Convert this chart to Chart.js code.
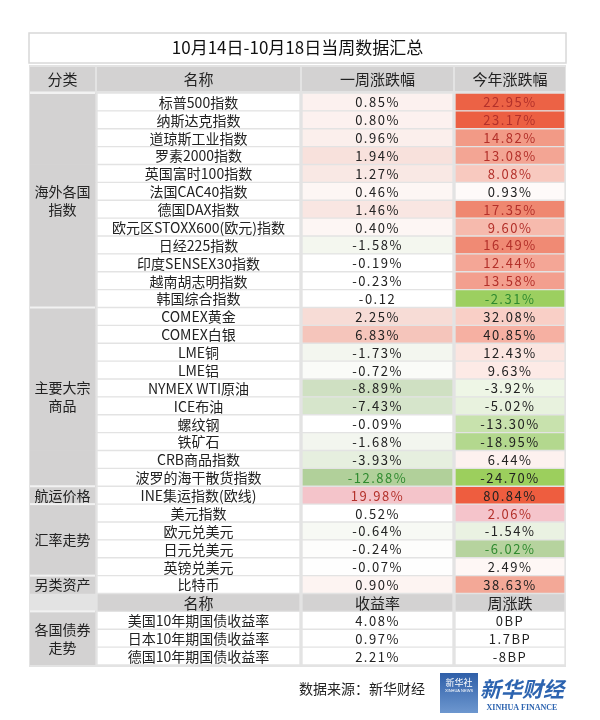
<!DOCTYPE html>
<html><head><meta charset="utf-8">
<script src="https://cdn.jsdelivr.net/npm/chart.js@4/dist/chart.umd.min.js"></script>
<style>body{margin:0;background:#fff}canvas{display:block}</style>
</head><body><canvas id="c" width="600" height="720"></canvas>
<script>
const title = '10月14日-10月18日当周数据汇总';
const headers = ['分类','名称','一周涨跌幅','今年涨跌幅'];
const bondHeaders = ['名称','收益率','周涨跌'];
const names = ['标普500指数','纳斯达克指数','道琼斯工业指数','罗素2000指数','英国富时100指数','法国CAC40指数','德国DAX指数','欧元区STOXX600(欧元)指数','日经225指数','印度SENSEX30指数','越南胡志明指数','韩国综合指数',
 'COMEX黄金','COMEX白银','LME铜','LME铝','NYMEX WTI原油','ICE布油','螺纹钢','铁矿石','CRB商品指数','波罗的海干散货指数',
 'INE集运指数(欧线)','美元指数','欧元兑美元','日元兑美元','英镑兑美元','比特币'];
const weekly = ['0.85%','0.80%','0.96%','1.94%','1.27%','0.46%','1.46%','0.40%','-1.58%','-0.19%','-0.23%','-0.12',
 '2.25%','6.83%','-1.73%','-0.72%','-8.89%','-7.43%','-0.09%','-1.68%','-3.93%','-12.88%',
 '19.98%','0.52%','-0.64%','-0.24%','-0.07%','0.90%'];
const yearly = ['22.95%','23.17%','14.82%','13.08%','8.08%','0.93%','17.35%','9.60%','16.49%','12.44%','13.58%','-2.31%',
 '32.08%','40.85%','12.43%','9.63%','-3.92%','-5.02%','-13.30%','-18.95%','6.44%','-24.70%',
 '80.84%','2.06%','-1.54%','-6.02%','2.49%','38.63%'];
const bondNames = ['美国10年期国债收益率','日本10年期国债收益率','德国10年期国债收益率'];
const bondYield = ['4.08%','0.97%','2.21%'];
const bondChg = ['0BP','1.7BP','-8BP'];
const groups = [['海外各国','指数',0,11],['主要大宗','商品',12,21],['航运价格','',22,22],['汇率走势','',23,26],['另类资产','',27,27],['各国债券','走势',29,31]];
const source = '数据来源：新华财经';

// styles
const weekBg = ['#fcf1ef','#fcf1ef','#fbefec','#f8e1dc','#f9e8e4','#fdf6f4','#f9e6e2','#fdf6f4','#f4f7ef','#ffffff','#ffffff','#ffffff',
 '#f7dcd6','#f5c5bb','#f3f6ef','#fafbf8','#cfe0c2','#d6e5cb','#ffffff','#f3f6ef','#e6efdf','#b1d09a',
 '#f4c4ca','#ffffff','#f7f9f4','#fdfdfc','#fefefe','#fdf4f2'];
const yearBg = ['#ec6245','#ec5f42','#f29a86','#f3a594','#f8c9bf','#fefaf9','#ef8770','#f6baad','#f08a74','#f4a696','#f39f8e','#9ccf60',
 '#f9cfc6','#f6b0a2','#fbe5e0','#fdeae6','#eef6e6','#e8f2de','#c8e2ad','#b3d88e','#fdf1ef','#9ccf5d',
 '#ee5d3f','#f5c4cb','#eaf2e2','#b6d39e','#fef7f5','#f3a897'];
const R='#b3302a', G='#2f8a2f', K='#222';
const weekTx = weekly.map((v,i)=> i===21?G:(i===22?R:K));
const yearTx = [R,R,R,R,R,K,R,R,R,R,R,G, K,K,K,K,K,K,K,K,K,K, K,R,K,G,K,K];
const colEdges = [0,65,67,270,272,423,425,535];
const GREY='#d3d2d2', GAP='#e3e3e3';

const rows = names.concat(['__bh'], bondNames);
const N = rows.length;
const catData = rows.map((r,i)=> i===28?null:[colEdges[0],colEdges[1]]);
const nameData = rows.map(()=>[colEdges[2],colEdges[3]]);
const weekData = rows.map(()=>[colEdges[4],colEdges[5]]);
const yearData = rows.map(()=>[colEdges[6],colEdges[7]]);
const col2Text = names.concat(['名称'], bondNames);
const col3Text = weekly.concat(['收益率'], bondYield);
const col4Text = yearly.concat(['周涨跌'], bondChg);
const col3Bg = weekBg.concat([GREY,'#fff','#fff','#fff']);
const col4Bg = yearBg.concat([GREY,'#fff','#fff','#fff']);
const col3Tx = weekTx.concat([K,K,K,K]);
const col4Tx = yearTx.concat([K,K,K,K]);
const FONT = '"Noto Sans CJK SC", sans-serif';

const common = {grouped:false, barPercentage:1, categoryPercentage:1, borderSkipped:false};
const tablePlugin = {
  id:'table',
  beforeDatasetsDraw(chart){
    const {ctx, chartArea:a, scales:{x,y}} = chart;
    ctx.save();
    ctx.fillStyle=GAP; ctx.fillRect(a.left-1,a.top-28,a.right-a.left+2,a.bottom-a.top+30);
    ctx.fillStyle='#fff'; ctx.strokeStyle='#d8d8d8'; ctx.lineWidth=1.5;
    ctx.fillRect(a.left-1,33,a.right-a.left+2,30); ctx.strokeRect(a.left-1,33,a.right-a.left+2,30);
    ctx.fillStyle='#111'; ctx.font='17px '+FONT; ctx.textAlign='center'; ctx.textBaseline='middle';
    ctx.fillText(title,(a.left+a.right)/2,48);
    ctx.font='15px '+FONT;
    for(let c=0;c<4;c++){
      const l=x.getPixelForValue(c===0?colEdges[0]:colEdges[2*c]), r=x.getPixelForValue(colEdges[2*c+1]);
      ctx.fillStyle=GREY; ctx.fillRect(l,a.top-26,r-l,24);
      ctx.fillStyle='#222'; ctx.fillText(headers[c],(l+r)/2,a.top-14);
    }
    ctx.restore();
  },
  afterDatasetsDraw(chart){
    const {ctx, chartArea:a, scales:{x,y}} = chart;
    ctx.save(); ctx.textAlign='center'; ctx.textBaseline='middle';
    const half = (y.getPixelForValue(1)-y.getPixelForValue(0))/2;
    ctx.font='14px '+FONT;
    const cl=x.getPixelForValue(colEdges[0]), cr=x.getPixelForValue(colEdges[1]);
    groups.forEach(g=>{
      const t=y.getPixelForValue(g[2])-half, b=y.getPixelForValue(g[3])+half;
      ctx.fillStyle='#f2f2f2'; ctx.fillRect(cl,t-1,cr-cl,2);
      const m=(t+b)/2;
      ctx.fillStyle='#222';
      if(g[1]){ctx.fillText(g[0],(cl+cr)/2,m-9);ctx.fillText(g[1],(cl+cr)/2,m+9);}
      else ctx.fillText(g[0],(cl+cr)/2,m);
    });
    const cx=[2,4,6].map(k=>(x.getPixelForValue(colEdges[k])+x.getPixelForValue(colEdges[k+1]))/2);
    for(let i=0;i<N;i++){
      const yy=y.getPixelForValue(i)+0.5;
      ctx.letterSpacing='0px';
      ctx.font=(i===28?'15px ':'14px ')+FONT;
      ctx.fillStyle=K; ctx.fillText(col2Text[i],cx[0],yy);
      if(i!==28){ctx.font='13px '+FONT; ctx.letterSpacing='1.5px';}
      ctx.fillStyle=col3Tx[i]; ctx.fillText(col3Text[i],cx[1],yy);
      ctx.fillStyle=col4Tx[i]; ctx.fillText(col4Text[i],cx[2],yy);
    }
    ctx.letterSpacing='0px';
    ctx.font='14px '+FONT; ctx.fillStyle='#222'; ctx.textAlign='right';
    ctx.fillText(source,425,689);
    const gr=ctx.createLinearGradient(0,673,0,713); gr.addColorStop(0,'#2f5fa8'); gr.addColorStop(1,'#6d97cf');
    ctx.fillStyle=gr; ctx.fillRect(440,673,38,40);
    ctx.fillStyle='#fff'; ctx.font='9px '+FONT; ctx.textAlign='center'; ctx.fillText('新华社',459,683);
    ctx.font='4px sans-serif'; ctx.fillText('XINHUA NEWS',459,691);
    ctx.fillStyle='#2d64b0'; ctx.font='italic bold 21px '+FONT; ctx.fillText('新华财经',522,689);
    ctx.font='bold 8px "Liberation Serif", serif'; ctx.fillText('XINHUA FINANCE',522,708);
    ctx.restore();
  }
};

new Chart(document.getElementById('c'),{
  type:'bar',
  data:{labels:rows, datasets:[
    {...common, data:catData, backgroundColor:GREY, borderWidth:0},
    {...common, data:nameData, backgroundColor:rows.map((r,i)=>i===28?GREY:'#fff'), borderColor:GAP, borderWidth:1},
    {...common, data:weekData, backgroundColor:col3Bg, borderColor:GAP, borderWidth:1},
    {...common, data:yearData, backgroundColor:col4Bg, borderColor:GAP, borderWidth:1}
  ]},
  options:{
    indexAxis:'y', responsive:false, animation:false, devicePixelRatio:1,
    layout:{padding:{left:30,right:35,top:93,bottom:55}},
    plugins:{legend:{display:false},tooltip:{enabled:false}},
    scales:{
      x:{type:'linear',min:colEdges[0],max:colEdges[7],display:false},
      y:{display:false}
    }
  },
  plugins:[tablePlugin]
});
</script></body></html>
